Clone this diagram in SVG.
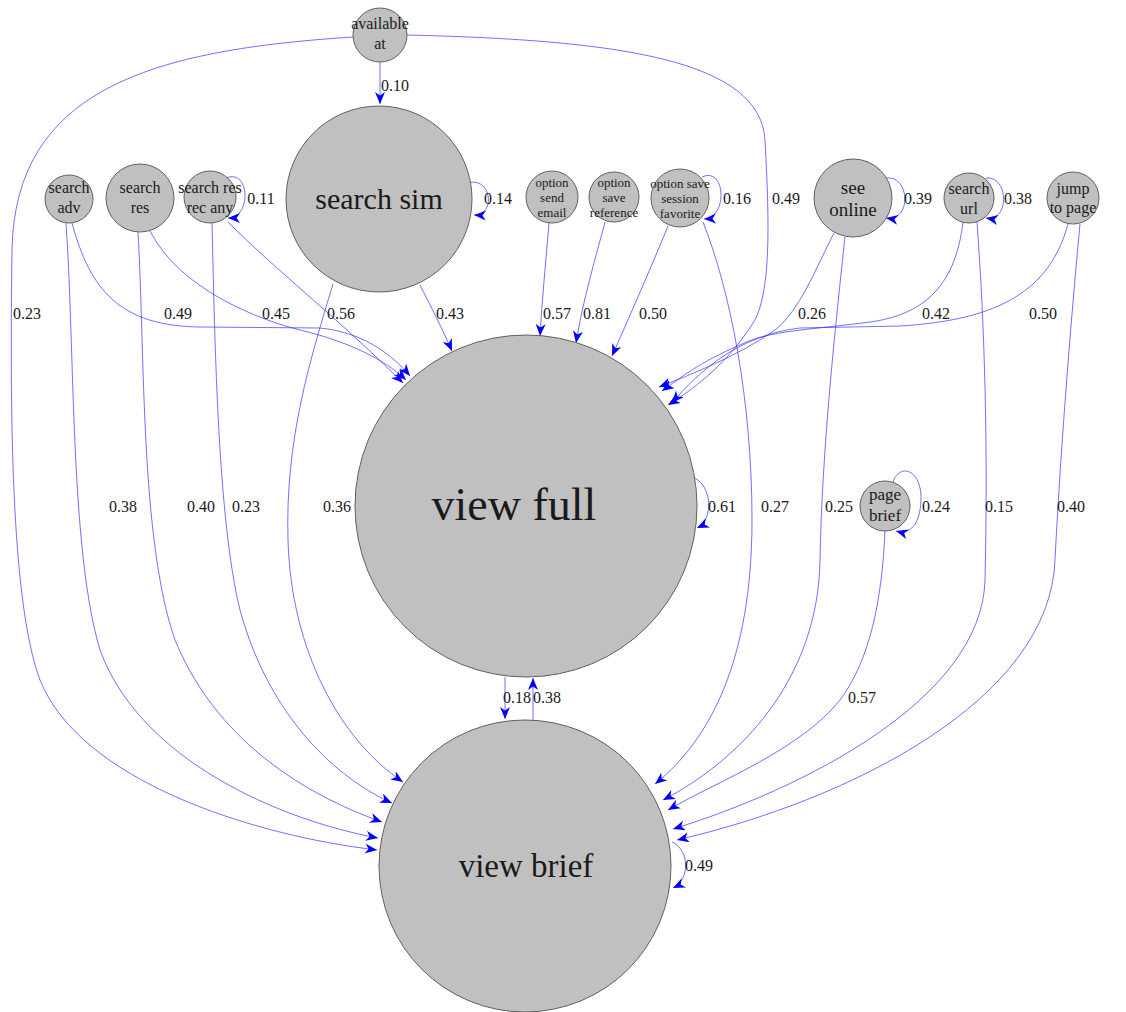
<svg xmlns="http://www.w3.org/2000/svg" width="1126" height="1012" viewBox="0 0 1126 1012">
<style>
.n{fill:#c0c0c0;stroke:#606060;stroke-width:1}
.t{font-family:"Liberation Serif","Times New Roman",serif;fill:#1a1a1a;text-anchor:middle}
.e{fill:none;stroke:#3535ff;stroke-opacity:0.7;stroke-width:1;marker-end:url(#ah)}
.l{font-family:"Liberation Serif","Times New Roman",serif;font-size:16px;fill:#1a1a1a;text-anchor:middle}
</style>
<defs>
<marker id="ah" markerUnits="userSpaceOnUse" markerWidth="14" markerHeight="12" refX="12" refY="5" orient="auto" viewBox="0 0 14 12">
<path d="M0,0 L12,5 L0,10 L3.5,5 z" fill="#0000ff"/>
</marker>
</defs>
<rect width="1126" height="1012" fill="#ffffff"/>
<g id="connectors">
<path class="e" d="M380,62 L380,104"/>
<path class="e" d="M353,37 C150,50 15,90 12,250 C10,400 10,600 40,680 C80,780 250,835 377,850"/>
<path class="e" d="M407,35 C620,40 760,60 765,140 C770,230 770,290 755,320 C730,360 700,385 668,405"/>
<path class="e" d="M468,183 C492,176 496,216 474,215"/>
<path class="e" d="M420,285 C430,305 443,330 452,351"/>
<path class="e" d="M333,284 C310,360 285,440 288,540 C291,650 340,740 403,782"/>
<path class="e" d="M72,223 C90,290 120,326 200,327 L320,328 C360,332 390,352 410,376"/>
<path class="e" d="M66,223 C75,350 70,550 100,650 C140,760 280,820 378,838"/>
<path class="e" d="M150,231 C180,290 260,320 300,330 C350,342 385,360 406,380"/>
<path class="e" d="M138,232 C145,350 140,540 175,640 C220,750 320,800 382,822"/>
<path class="e" d="M226,178 C250,168 252,218 228,218"/>
<path class="e" d="M228,222 C270,265 340,320 403,383"/>
<path class="e" d="M212,223 C215,350 218,520 240,610 C270,720 340,780 392,803"/>
<path class="e" d="M549,223 C546,260 542,300 540,336"/>
<path class="e" d="M605,222 C595,260 583,300 576,343"/>
<path class="e" d="M668,226 C650,270 628,320 612,356"/>
<path class="e" d="M702,177 C726,166 728,218 704,219"/>
<path class="e" d="M703,222 C730,290 752,400 752,520 C752,660 710,740 655,784"/>
<path class="e" d="M887,178 C910,176 912,222 886,218"/>
<path class="e" d="M834,233 C815,270 800,310 775,330 C740,355 690,375 659,387"/>
<path class="e" d="M845,237 C835,330 822,450 820,560 C818,680 740,760 663,800"/>
<path class="e" d="M986,178 C1009,176 1010,222 986,218"/>
<path class="e" d="M963,222 C955,290 920,315 870,322 C810,330 770,330 740,345 C700,362 680,378 662,391"/>
<path class="e" d="M977,222 C985,330 988,450 985,580 C982,700 800,790 673,829"/>
<path class="e" d="M1068,224 C1050,290 1000,320 900,326 L800,328 C740,335 700,370 672,403"/>
<path class="e" d="M1080,224 C1070,330 1060,460 1055,560 C1050,700 850,800 677,840"/>
<path class="e" d="M694,478 C712,485 714,520 697,528"/>
<path class="e" d="M505,677 L505,719"/>
<path class="e" d="M533,721 L533,678"/>
<path class="e" d="M893,482 C900,462 922,470 921,500 C920,525 910,535 896,531"/>
<path class="e" d="M885,531 C882,600 870,660 840,700 C800,750 720,780 668,810"/>
<path class="e" d="M672,842 C690,850 690,880 673,888"/>
</g>
<g id="edge-labels">
<text class="l" x="395" y="91">0.10</text>
<text class="l" x="27" y="319">0.23</text>
<text class="l" x="786" y="204">0.49</text>
<text class="l" x="498" y="204">0.14</text>
<text class="l" x="450" y="319">0.43</text>
<text class="l" x="337" y="512">0.36</text>
<text class="l" x="178" y="319">0.49</text>
<text class="l" x="123" y="512">0.38</text>
<text class="l" x="276" y="319">0.45</text>
<text class="l" x="201" y="512">0.40</text>
<text class="l" x="261" y="204">0.11</text>
<text class="l" x="341" y="319">0.56</text>
<text class="l" x="246" y="512">0.23</text>
<text class="l" x="557" y="319">0.57</text>
<text class="l" x="597" y="319">0.81</text>
<text class="l" x="653" y="319">0.50</text>
<text class="l" x="737" y="204">0.16</text>
<text class="l" x="775" y="512">0.27</text>
<text class="l" x="918" y="204">0.39</text>
<text class="l" x="812" y="319">0.26</text>
<text class="l" x="839" y="512">0.25</text>
<text class="l" x="1018" y="204">0.38</text>
<text class="l" x="936" y="319">0.42</text>
<text class="l" x="999" y="512">0.15</text>
<text class="l" x="1043" y="319">0.50</text>
<text class="l" x="1071" y="512">0.40</text>
<text class="l" x="722" y="512">0.61</text>
<text class="l" x="936" y="512">0.24</text>
<text class="l" x="517" y="703">0.18</text>
<text class="l" x="547" y="703">0.38</text>
<text class="l" x="862" y="703">0.57</text>
<text class="l" x="699" y="871">0.49</text>
</g>
<g id="node-available-at"><circle class="n" cx="380" cy="35" r="27"/><text class="t" x="380" y="29" font-size="16">available</text><text class="t" x="380" y="49" font-size="16">at</text></g>
<g id="node-search-sim"><circle class="n" cx="379" cy="199" r="93"/><text class="t" x="379" y="209" font-size="30">search sim</text></g>
<g id="node-search-adv"><circle class="n" cx="69" cy="199" r="24"/><text class="t" x="69" y="193" font-size="16">search</text><text class="t" x="69" y="213" font-size="16">adv</text></g>
<g id="node-search-res"><circle class="n" cx="140" cy="198" r="34"/><text class="t" x="140" y="193" font-size="16">search</text><text class="t" x="140" y="213" font-size="16">res</text></g>
<g id="node-search-res-rec-any"><circle class="n" cx="210" cy="197" r="26"/><text class="t" x="210" y="193" font-size="16">search res</text><text class="t" x="210" y="213" font-size="16">rec any</text></g>
<g id="node-option-send-email"><circle class="n" cx="552" cy="197" r="26"/><text class="t" x="552" y="187" font-size="13">option</text><text class="t" x="552" y="202" font-size="13">send</text><text class="t" x="552" y="217" font-size="13">email</text></g>
<g id="node-option-save-reference"><circle class="n" cx="614" cy="197" r="25"/><text class="t" x="614" y="187" font-size="13">option</text><text class="t" x="614" y="202" font-size="13">save</text><text class="t" x="614" y="217" font-size="13">reference</text></g>
<g id="node-option-save-session-favorite"><circle class="n" cx="680" cy="198" r="29"/><text class="t" x="680" y="188" font-size="13">option save</text><text class="t" x="680" y="203" font-size="13">session</text><text class="t" x="680" y="218" font-size="13">favorite</text></g>
<g id="node-see-online"><circle class="n" cx="853" cy="198" r="39"/><text class="t" x="853" y="194" font-size="19">see</text><text class="t" x="853" y="216" font-size="19">online</text></g>
<g id="node-search-url"><circle class="n" cx="969" cy="198" r="25"/><text class="t" x="969" y="194" font-size="16">search</text><text class="t" x="969" y="214" font-size="16">url</text></g>
<g id="node-jump-to-page"><circle class="n" cx="1073" cy="198" r="26"/><text class="t" x="1073" y="194" font-size="16">jump</text><text class="t" x="1073" y="213" font-size="16">to page</text></g>
<g id="node-view-full"><circle class="n" cx="526" cy="506" r="171"/><text class="t" x="514" y="520" font-size="46">view full</text></g>
<g id="node-page-brief"><circle class="n" cx="885" cy="506" r="25"/><text class="t" x="885" y="500" font-size="17">page</text><text class="t" x="885" y="521" font-size="17">brief</text></g>
<g id="node-view-brief"><circle class="n" cx="525" cy="866" r="146"/><text class="t" x="526" y="877" font-size="33">view brief</text></g>
</svg>
